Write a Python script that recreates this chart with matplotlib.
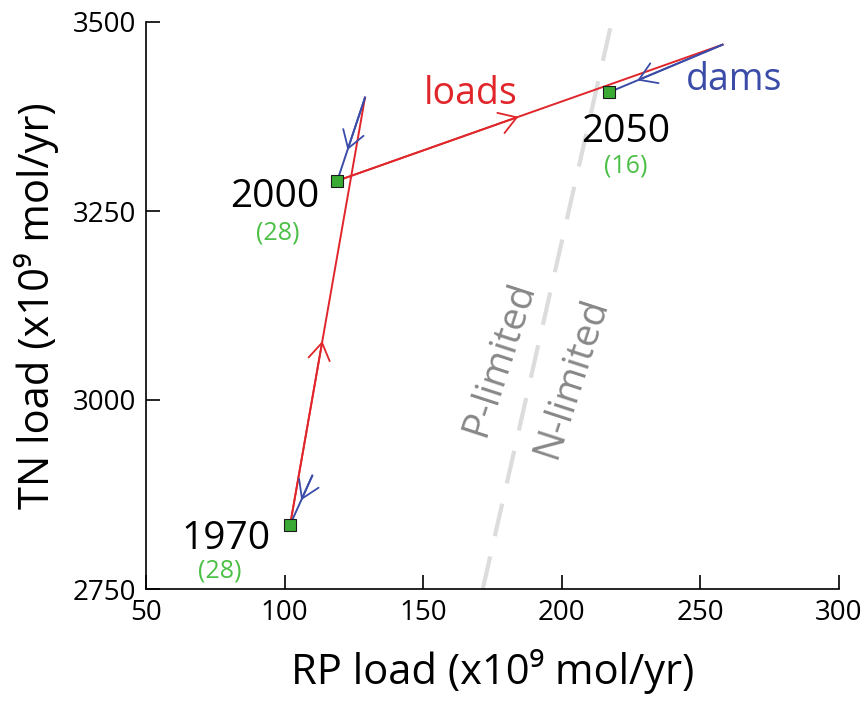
import matplotlib
matplotlib.use("Agg")
import matplotlib.pyplot as plt
import numpy as np

plt.rcParams['font.family'] = ['Open Sans', 'DejaVu Sans']

# actual loads (with dams) and loads without dam retention
years = ['1970', '2000', '2050']
rp_actual = [102, 119, 217]
tn_actual = [2835, 3290, 3407]
rp_nodam = [110, 129, 258]
tn_nodam = [2900, 3400, 3470]
dam_counts = ['(28)', '(28)', '(16)']

# P/N limitation boundary
limit_rp = [171.5, 218]
limit_tn = [2750, 3500]

xticks = [50, 100, 150, 200, 250, 300]
yticks = [2750, 3000, 3250, 3500]

red = '#e0262a'
blue = '#3b4ba8'
green_txt = '#4cc046'
green_mk = '#3aaa35'


def arrow_mid(ax, p0, p1, frac, color):
    tip = (p0[0] + frac * (p1[0] - p0[0]), p0[1] + frac * (p1[1] - p0[1]))
    ax.annotate('', xy=tip, xytext=p0,
                arrowprops=dict(arrowstyle='->,head_length=0.55,head_width=0.35',
                                color=color, lw=1.3, shrinkA=0, shrinkB=0,
                                mutation_scale=22))


fig = plt.figure(figsize=(8.66, 7.09), dpi=100)
ax = fig.add_axes([146 / 866, 1 - 589 / 709, (839 - 146) / 866, (589 - 22) / 709])

ax.plot(limit_rp, limit_tn, color='#dcdcdc', lw=3, dashes=(8, 5), zorder=1, clip_on=False)

# loads path: actual -> next no-dam
load_frac = [0.43, 0.47]
for i in range(len(years) - 1):
    p0 = (rp_actual[i], tn_actual[i])
    p1 = (rp_nodam[i + 1], tn_nodam[i + 1])
    ax.plot([p0[0], p1[0]], [p0[1], p1[1]], color=red, lw=1.4, zorder=2)
    arrow_mid(ax, p0, p1, load_frac[i], red)

# dam effect: no-dam -> actual
dam_frac = [0.5, 0.63, 0.75]
for i in range(len(years)):
    p0 = (rp_nodam[i], tn_nodam[i])
    p1 = (rp_actual[i], tn_actual[i])
    ax.plot([p0[0], p1[0]], [p0[1], p1[1]], color=blue, lw=1.4, zorder=3)
    arrow_mid(ax, p0, p1, dam_frac[i], blue)

ax.plot(rp_actual, tn_actual, 's', ms=8.5, mfc=green_mk, mec='#1a1a1a', mew=0.8,
        ls='none', zorder=4)

year_off = [(-64, -14), (-63, -16), (17, -40)]
count_off = [(-70, -46), (-60, -52), (17, -74)]
for i in range(len(years)):
    ax.annotate(years[i], (rp_actual[i], tn_actual[i]), xytext=year_off[i],
                textcoords='offset pixels', fontsize=28, ha='center', va='center')
    ax.annotate(dam_counts[i], (rp_actual[i], tn_actual[i]), xytext=count_off[i],
                textcoords='offset pixels', fontsize=18, ha='center', va='center',
                color=green_txt)

ax.text(0.468, 0.873, 'loads', transform=ax.transAxes, fontsize=27, color=red,
        ha='center', va='center')
ax.text(0.848, 0.897, 'dams', transform=ax.transAxes, fontsize=27, color=blue,
        ha='center', va='center')
ax.text(0.51, 0.407, 'P-limited', transform=ax.transAxes, fontsize=28, color='#888888',
        ha='center', va='center', rotation=72)
ax.text(0.614, 0.372, 'N-limited', transform=ax.transAxes, fontsize=28, color='#888888',
        ha='center', va='center', rotation=72)

ax.set_xlim(50, 300)
ax.set_ylim(2750, 3500)
ax.set_xticks(xticks)
ax.set_yticks(yticks)
ax.tick_params(direction='in', length=10, width=1.2, labelsize=20, pad=7)
ax.spines['top'].set_visible(False)
ax.spines['right'].set_visible(False)
ax.spines['left'].set_linewidth(1.2)
ax.spines['bottom'].set_linewidth(1.2)

ax.set_xlabel('RP load (x10\u2079 mol/yr)', fontsize=30, labelpad=16)
ax.set_ylabel('TN load (x10\u2079 mol/yr)', fontsize=30, labelpad=10)

fig.savefig('out.png', dpi=100)
